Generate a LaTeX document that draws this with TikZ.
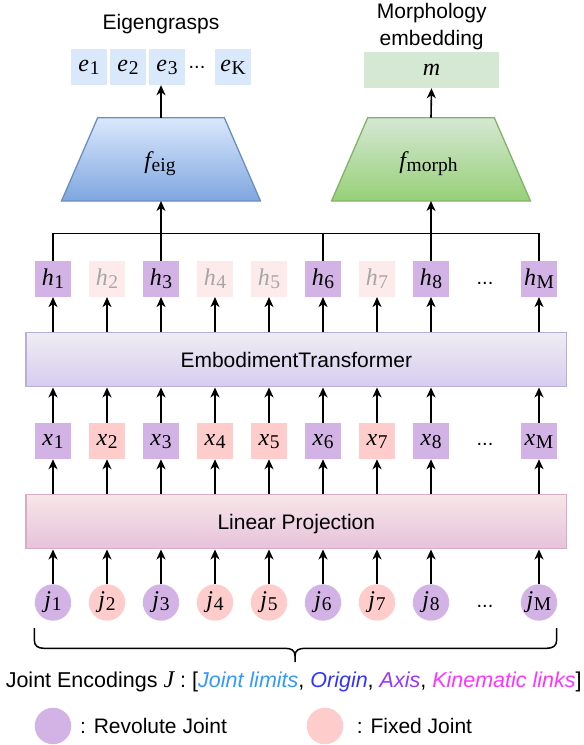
\documentclass[tikz,border=0pt]{standalone}
\usepackage{fontspec}
\setsansfont{Liberation Sans}
\newfontfamily\tmsfont{Liberation Serif}
\usetikzlibrary{arrows.meta}
\definecolor{cpur}{RGB}{211,179,229}
\definecolor{cpink}{RGB}{255,204,204}
\definecolor{cfade}{RGB}{253,235,235}
\definecolor{cfadetxt}{RGB}{166,166,166}
\definecolor{cblue}{RGB}{218,232,252}
\definecolor{cgreen}{RGB}{213,232,212}
\definecolor{cEigT}{RGB}{218,232,252}
\definecolor{cEigB}{RGB}{126,166,224}
\definecolor{cEigS}{RGB}{108,142,191}
\definecolor{cMorT}{RGB}{213,232,212}
\definecolor{cMorB}{RGB}{151,208,119}
\definecolor{cMorS}{RGB}{130,179,102}
\definecolor{cEtT}{RGB}{239,237,243}
\definecolor{cEtB}{RGB}{214,204,240}
\definecolor{cEtS}{RGB}{185,174,214}
\definecolor{cLpT}{RGB}{247,230,233}
\definecolor{cLpB}{RGB}{231,194,217}
\definecolor{cLpS}{RGB}{218,170,198}
\definecolor{cJL}{RGB}{51,153,255}
\definecolor{cOR}{RGB}{51,51,255}
\definecolor{cAX}{RGB}{153,51,255}
\definecolor{cKL}{RGB}{255,51,255}
\newcommand\mv[2]{{\tmsfont\fontsize{24}{28}\selectfont\itshape #1}\kern0.6pt{\tmsfont\fontsize{19.5}{21}\selectfont\upshape\raisebox{-3pt}{#2}}}
\newcommand\mi[1]{{\tmsfont\fontsize{24}{28}\selectfont\itshape #1}}
\begin{document}
\begin{tikzpicture}[x=1pt,y=-1pt,
  every node/.style={font=\sffamily\fontsize{21}{25}\selectfont, inner sep=0pt},
  arr/.style={-{Stealth[length=10pt,width=9pt,inset=3pt]}, line width=1.6pt},
  ln/.style={line width=1.6pt},
  tok/.style={minimum width=35.7pt, minimum height=35.7pt, inner sep=0pt},
  pur/.style={tok, fill=cpur},
  pnk/.style={tok, fill=cpink},
  fad/.style={tok, fill=cfade, text=cfadetxt},
  jpur/.style={circle, minimum size=36.4pt, inner sep=0pt, fill=cpur},
  jpnk/.style={circle, minimum size=36.4pt, inner sep=0pt, fill=cpink},
  ebox/.style={minimum width=36pt, minimum height=36pt, inner sep=0pt, fill=cblue},
  bigbox/.style={minimum width=540.7pt, minimum height=54.6pt, line width=1.3pt, text height=15pt, text depth=0pt},
  dotsn/.style={font=\sffamily\fontsize{20}{24}\selectfont}
]
\useasboundingbox (0,0) rectangle (584,745);

% titles
\node (eigT) at (161,24.5) {Eigengrasps};
\node[align=center, font=\sffamily\fontsize{21}{26.7}\selectfont] (morT) at (431.7,26.7) {Morphology\\embedding};

% eigengrasp boxes
\node[ebox] (e1) at (89,67) {\mv{e}{1}};
\node[ebox] (e2) at (128,67) {\mv{e}{2}};
\node[ebox] (e3) at (167,67) {\mv{e}{3}};
\node[dotsn] (edots) at (197,67.7) {...};
\node[ebox] (eK) at (233,67) {\mv{e}{K}};
\node[minimum width=135pt, minimum height=36pt, fill=cgreen] (m) at (431.5,70) {\mi{m}};

% trapezoids
\shade[top color=cEigT, bottom color=cEigB, draw=cEigS, line width=1.3pt]
  (97.7,117.7) -- (224.3,117.7) -- (260.5,201) -- (61.5,201) -- cycle;
\shade[top color=cMorT, bottom color=cMorB, draw=cMorS, line width=1.3pt]
  (367.7,117.7) -- (494.3,117.7) -- (530.5,201) -- (331.5,201) -- cycle;
\coordinate (feigT) at (161,117.7);
\coordinate (feigB) at (161,201);
\coordinate (fmorT) at (431,117.7);
\coordinate (fmorB) at (431,201);
\node (feig) at (160,164) {\mv{f}{eig}};
\node (fmorph) at (428.5,163.5) {\mv{f}{morph}};

\draw[arr] (feigT) -- (feigT |- e3.south);
\draw[arr] (fmorT) -- (m.south);

% h row
\foreach \nn/\cx/\st in {1/53/pur,2/107/fad,3/161/pur,4/215/fad,5/269/fad,6/323/pur,7/377/fad,8/431/pur,M/539/pur}
  \node[\st] (h\nn) at (\cx,279) {\mv{h}{\nn}};
\node[dotsn] (hdots) at (485,283) {...};

% bus
\coordinate (bus) at (296,233.3);
\draw[ln] (h1.north) |- (hM.north |- bus) -- (hM.north);
\draw[ln] (h3.north) -- (h3.north |- bus);
\draw[ln] (h6.north) -- (h6.north |- bus);
\draw[ln] (h8.north) -- (h8.north |- bus);
\draw[arr] (h3.north |- bus) -- (feigB);
\draw[arr] (h8.north |- bus) -- (fmorB);

% transformer
\node[bigbox, draw=cEtS, top color=cEtT, bottom color=cEtB] (et) at (296.3,359.5) {EmbodimentTransformer};

% x row
\foreach \nn/\cx/\st in {1/53/pur,2/107/pnk,3/161/pur,4/215/pnk,5/269/pnk,6/323/pur,7/377/pnk,8/431/pur,M/539/pur}
  \node[\st] (x\nn) at (\cx,441.2) {\mv{x}{\nn}};
\node[dotsn] (xdots) at (485,444.3) {...};

% linear projection
\node[bigbox, draw=cLpS, top color=cLpT, bottom color=cLpB] (lp) at (296.3,521.5) {Linear Projection};

% j row
\foreach \nn/\cx/\st in {1/53/jpur,2/107/jpnk,3/161/jpur,4/215/jpnk,5/269/jpnk,6/323/jpur,7/377/jpnk,8/431/jpur,M/539/jpur}
  \node[\st] (j\nn) at (\cx,602.5) {\mv{j}{\nn}};
\node[dotsn] (jdots) at (485,606.7) {...};

% vertical arrows
\foreach \nn in {1,2,3,4,5,6,7,8,M} {
  \draw[arr] (j\nn.north) -- (j\nn.north |- lp.south);
  \draw[arr] (x\nn.south |- lp.north) -- (x\nn.south);
  \draw[arr] (x\nn.north) -- (x\nn.north |- et.south);
  \draw[arr] (h\nn.south |- et.north) -- (h\nn.south);
}

% brace
\draw[line width=1.5pt, line join=round]
  (34.3,628) -- (34.3,640) .. controls (34.3,646) and (38,648.3) .. (44,648.3)
  -- (285,648.3) .. controls (291,648.3) and (295,650) .. (295,656) -- (295,662)
  (295,656) .. controls (295,650) and (299,648.3) .. (305,648.3)
  -- (546.7,648.3) .. controls (552.7,648.3) and (556.7,646) .. (556.7,640) -- (556.7,628);

\node[font=\sffamily\fontsize{21.5}{25}\selectfont] (enc) at (293.7,681.7) {Joint Encodings \mi{J} : [\textit{\textcolor{cJL}{Joint limits}}, \textit{\textcolor{cOR}{Origin}}, \textit{\textcolor{cAX}{Axis}}, \textit{\textcolor{cKL}{Kinematic links}}]};

% legend
\node[circle, minimum size=36.5pt, fill=cpur] (legR) at (53,726) {};
\node[anchor=west] (legRt) at (80,726) {: Revolute Joint};
\node[circle, minimum size=36.5pt, fill=cpink] (legF) at (325,726) {};
\node[anchor=west] (legFt) at (356.7,726) {: Fixed Joint};
\end{tikzpicture}
\end{document}
